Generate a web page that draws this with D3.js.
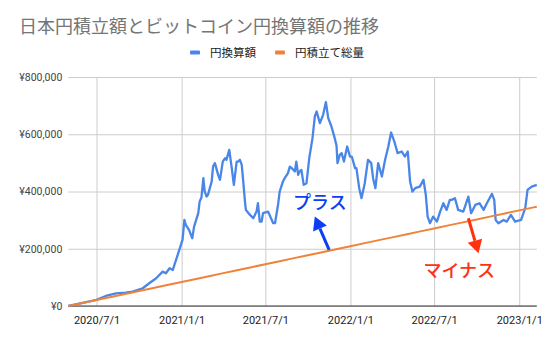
<!DOCTYPE html>
<html>
<head>
<meta charset="utf-8">
<script src="https://cdn.jsdelivr.net/npm/d3@7"></script>
<style>
  body { margin: 0; background: #fff; }
  svg { display: block; }
  text { font-family: Roboto, "Noto Sans CJK JP", "Noto Sans", sans-serif; }
</style>
</head>
<body>
<svg id="chart" width="554" height="342"></svg>
<script>
// BTC holdings valued in yen (円換算額): [date, yen]
const blueSeries = [
  ["2020-05-01", 0], ["2020-06-01", 10500], ["2020-07-01", 21500], ["2020-07-21", 35000],
  ["2020-08-12", 44400], ["2020-09-02", 46500], ["2020-09-17", 50000], ["2020-10-09", 61900],
  ["2020-10-23", 79400], ["2020-11-07", 96900], ["2020-11-21", 120000], ["2020-11-28", 114400],
  ["2020-12-06", 131800], ["2020-12-13", 125900], ["2020-12-20", 160900], ["2020-12-27", 195800],
  ["2021-01-03", 230800], ["2021-01-07", 300700], ["2021-01-10", 283300], ["2021-01-17", 265800],
  ["2021-01-24", 236700], ["2021-01-28", 277300], ["2021-02-06", 324200], ["2021-02-09", 364700],
  ["2021-02-13", 380000], ["2021-02-17", 446600], ["2021-02-20", 399700], ["2021-02-24", 382200],
  ["2021-02-27", 388200], ["2021-03-03", 411600], ["2021-03-07", 434700], ["2021-03-10", 487100],
  ["2021-03-14", 499000], ["2021-03-21", 458100], ["2021-03-25", 440600], ["2021-03-31", 504600],
  ["2021-04-05", 516500], ["2021-04-08", 510600], ["2021-04-14", 545500], ["2021-04-19", 487100],
  ["2021-04-24", 423100], ["2021-04-30", 504600], ["2021-05-03", 504600], ["2021-05-07", 510600],
  ["2021-05-11", 493100], ["2021-05-14", 440600], ["2021-05-18", 364700], ["2021-05-20", 335700],
  ["2021-05-29", 318200], ["2021-06-05", 306700], ["2021-06-12", 329800], ["2021-06-15", 359100],
  ["2021-06-19", 294800], ["2021-06-23", 294800], ["2021-06-26", 324200], ["2021-07-07", 329800],
  ["2021-07-15", 300700], ["2021-07-18", 289200], ["2021-07-22", 289200], ["2021-07-29", 359100],
  ["2021-08-01", 399700], ["2021-08-08", 434700], ["2021-08-12", 446600], ["2021-08-19", 464100],
  ["2021-08-23", 487100], ["2021-08-27", 481500], ["2021-09-03", 470000], ["2021-09-06", 504600],
  ["2021-09-10", 458100], ["2021-09-13", 469600], ["2021-09-17", 475600], ["2021-09-22", 423100],
  ["2021-09-28", 429100], ["2021-10-04", 516500], ["2021-10-11", 586400], ["2021-10-16", 662000],
  ["2021-10-20", 679500], ["2021-10-27", 638900], ["2021-11-03", 667900], ["2021-11-09", 712300],
  ["2021-11-14", 656400], ["2021-11-21", 627000], ["2021-11-28", 586400], ["2021-12-02", 560000],
  ["2021-12-04", 499000], ["2021-12-09", 528000], ["2021-12-13", 534000], ["2021-12-18", 504600],
  ["2021-12-25", 557100], ["2021-12-31", 522100], ["2022-01-04", 522100], ["2022-01-11", 481500],
  ["2022-01-14", 481500], ["2022-01-20", 411600], ["2022-01-25", 376600], ["2022-02-01", 429100],
  ["2022-02-08", 510600], ["2022-02-15", 499000], ["2022-02-19", 446600], ["2022-02-24", 411600],
  ["2022-03-02", 499000], ["2022-03-10", 452200], ["2022-03-17", 510600], ["2022-03-24", 557100],
  ["2022-03-30", 606000], ["2022-04-06", 574600], ["2022-04-13", 534000], ["2022-04-22", 539600],
  ["2022-04-29", 522100], ["2022-05-05", 539600], ["2022-05-10", 434700], ["2022-05-15", 399700],
  ["2022-05-21", 411600], ["2022-05-31", 417200], ["2022-06-08", 440600], ["2022-06-13", 388200],
  ["2022-06-17", 312300], ["2022-06-22", 289200], ["2022-06-29", 312300], ["2022-07-07", 294800],
  ["2022-07-14", 329800], ["2022-07-21", 359100], ["2022-07-28", 335700], ["2022-08-04", 370700],
  ["2022-08-08", 370700], ["2022-08-15", 376600], ["2022-08-22", 335700], ["2022-09-02", 329800],
  ["2022-09-13", 382200], ["2022-09-19", 324200], ["2022-09-28", 353200], ["2022-10-07", 359100],
  ["2022-10-16", 335700], ["2022-10-23", 359100], ["2022-11-03", 391700], ["2022-11-08", 370700],
  ["2022-11-11", 300700], ["2022-11-17", 289200], ["2022-11-28", 300700], ["2022-12-05", 294800],
  ["2022-12-14", 318200], ["2022-12-23", 294800], ["2023-01-05", 300700], ["2023-01-14", 341700],
  ["2023-01-19", 405700], ["2023-01-28", 417200], ["2023-02-08", 423100]
];

// Accumulated yen deposits (円積立て総量): [date, yen]
const orangeSeries = [
  ["2020-05-01", 0], ["2020-06-01", 10600], ["2020-07-01", 21000], ["2020-08-01", 31600],
  ["2020-09-01", 42200], ["2020-10-01", 52500], ["2020-11-01", 63100], ["2020-12-01", 73400],
  ["2021-01-01", 84000], ["2021-02-01", 94600], ["2021-03-01", 104200], ["2021-04-01", 114800],
  ["2021-05-01", 125100], ["2021-06-01", 135700], ["2021-07-01", 146000], ["2021-08-01", 156600],
  ["2021-09-01", 167200], ["2021-10-01", 177500], ["2021-11-01", 188100], ["2021-12-01", 198400],
  ["2022-01-01", 209000], ["2022-02-01", 219600], ["2022-03-01", 229200], ["2022-04-01", 239800],
  ["2022-05-01", 250100], ["2022-06-01", 260700], ["2022-07-01", 271000], ["2022-08-01", 281600],
  ["2022-09-01", 292200], ["2022-10-01", 302500], ["2022-11-01", 313100], ["2022-12-01", 323400],
  ["2023-01-01", 334000], ["2023-02-01", 344600], ["2023-02-08", 347000]
];

const seriesNames = ["円換算額", "円積立て総量"];
const seriesColors = ["#4a86e8", "#f0823a"];
const xTickLabels = ["2020/7/1", "2021/1/1", "2021/7/1", "2022/1/1", "2022/7/1", "2023/1/1"];
const yTickValues = [0, 200000, 400000, 600000, 800000];
const xDomain = ["2020-05-01", "2023-02-08"];

// Callout annotations: arrow from a point on the deposit line, plus a label
const annotations = [
  { text: "プラス", color: "#0d3ef5", from: ["2021-11-16", 196000], to: ["2021-10-16", 312300], label: ["2021-08-30", 340000] },
  { text: "マイナス", color: "#ff3210", from: ["2022-09-13", 306700], to: ["2022-10-05", 184300], label: ["2022-06-08", 101000] }
];

const parse = d3.timeParse("%Y-%m-%d");
const svg = d3.select("#chart");
const plot = { left: 68.3, right: 536.8, top: 77, bottom: 306 };

const x = d3.scaleTime().domain(xDomain.map(parse)).range([plot.left, plot.right]);
const y = d3.scaleLinear().domain([0, 800000]).range([plot.bottom, plot.top]);

// Title
svg.append("text")
  .attr("x", 19).attr("y", 33)
  .attr("fill", "#757575")
  .style("font-size", "18px")
  .style("font-family", "'Noto Sans CJK JP', sans-serif")
  .text("日本円積立額とビットコイン円換算額の推移");

// Legend
const legendX = [190, 275];
seriesNames.forEach((name, i) => {
  const g = svg.append("g").attr("transform", `translate(${legendX[i]},52.5)`);
  g.append("rect").attr("x", 0).attr("y", -2).attr("width", 10).attr("height", 4).attr("rx", 1).attr("fill", seriesColors[i]);
  g.append("text").attr("x", 20).attr("y", 4.2)
    .attr("fill", "#222")
    .style("font-size", "11.5px")
    .style("font-family", "'Noto Sans CJK JP', sans-serif")
    .text(name);
});

// Horizontal gridlines and y labels
const yAxis = d3.axisLeft(y).tickValues(yTickValues)
  .tickSize(-(plot.right - plot.left)).tickPadding(6)
  .tickFormat(v => "¥" + d3.format(",")(v));
svg.append("g").attr("transform", `translate(${plot.left},0)`).call(yAxis)
  .call(g => g.select(".domain").remove())
  .call(g => g.selectAll(".tick line").attr("stroke", "#cccccc"))
  .call(g => g.selectAll(".tick text").attr("fill", "#444").style("font-size", "10.5px").attr("x", -6));

// Vertical gridlines and x labels
const xTicks = xTickLabels.map(s => d3.timeParse("%Y/%-m/%-d")(s));
const xAxis = d3.axisBottom(x).tickValues(xTicks)
  .tickSize(-(plot.bottom - plot.top)).tickPadding(8)
  .tickFormat((d, i) => xTickLabels[i]);
svg.append("g").attr("transform", `translate(0,${plot.bottom})`).call(xAxis)
  .call(g => g.select(".domain").remove())
  .call(g => g.selectAll(".tick line").attr("stroke", "#cccccc"))
  .call(g => g.selectAll(".tick text").attr("fill", "#222").style("font-size", "11px").attr("y", 10));

// Baseline
svg.append("line")
  .attr("x1", plot.left).attr("x2", plot.right)
  .attr("y1", y(0)).attr("y2", y(0))
  .attr("stroke", "#333").attr("stroke-width", 1);

const line = d3.line().x(d => x(parse(d[0]))).y(d => y(d[1]));

svg.append("path").datum(blueSeries)
  .attr("fill", "none").attr("stroke", seriesColors[0]).attr("stroke-width", 2.3)
  .attr("stroke-linejoin", "round").attr("d", line);
svg.append("path").datum(orangeSeries)
  .attr("fill", "none").attr("stroke", seriesColors[1]).attr("stroke-width", 2)
  .attr("stroke-linejoin", "round").attr("d", line);

// Annotation arrows and labels
annotations.forEach(a => {
  const x1 = x(parse(a.from[0])), y1 = y(a.from[1]);
  const x2 = x(parse(a.to[0])), y2 = y(a.to[1]);
  const ang = Math.atan2(y2 - y1, x2 - x1);
  const head = 13, half = 7.5;
  const bx = x2 - head * Math.cos(ang), by = y2 - head * Math.sin(ang);
  svg.append("line")
    .attr("x1", x1).attr("y1", y1).attr("x2", bx).attr("y2", by)
    .attr("stroke", a.color).attr("stroke-width", 3);
  const px = -Math.sin(ang), py = Math.cos(ang);
  svg.append("path")
    .attr("d", `M${x2},${y2}L${bx + px * half},${by + py * half}L${bx - px * half},${by - py * half}Z`)
    .attr("fill", a.color);
  svg.append("text")
    .attr("x", x(parse(a.label[0]))).attr("y", y(a.label[1]))
    .attr("fill", a.color)
    .style("font-size", "18px").style("font-weight", "500")
    .style("font-family", "'Noto Sans CJK JP', sans-serif")
    .text(a.text);
});
</script>
</body>
</html>
